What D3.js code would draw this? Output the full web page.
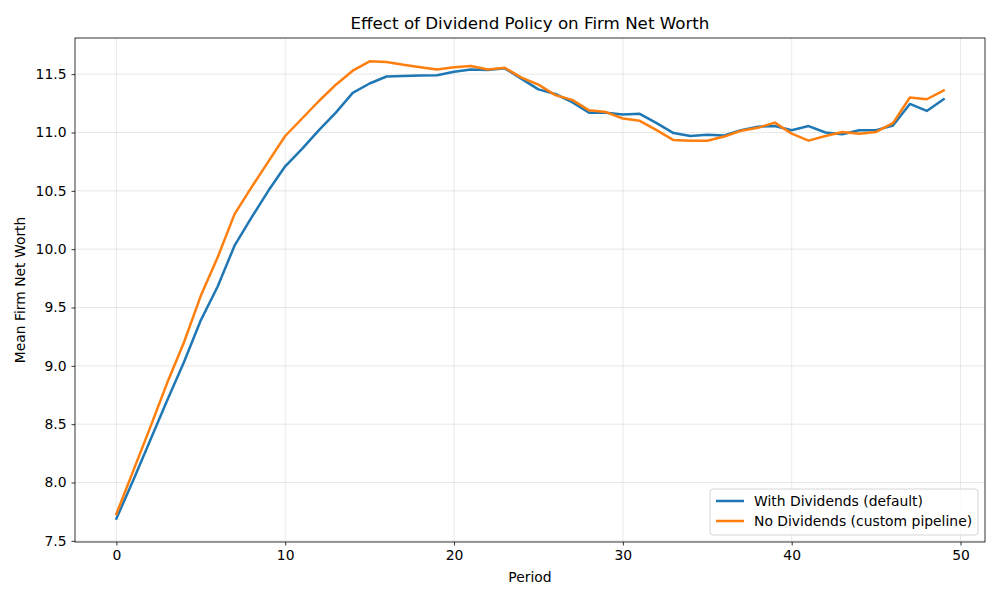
<!DOCTYPE html>
<html>
<script src="https://d3js.org/d3.v7.min.js"></script>

<head>
    <style>
        body {
            margin: 0;
            background-color: white;
            font-family: "DejaVu Sans", sans-serif;
        }
    </style>
</head>

<body>
</body>
<script>
    const width = 1000,
        height = 600;
    const margin = { top: 38, right: 15, bottom: 58, left: 75 };

    const periods = d3.range(0, 50);
    const withDividends = [
        7.69, 8.02, 8.36, 8.70, 9.03, 9.39, 9.68, 10.03, 10.27, 10.50,
        10.71, 10.86, 11.02, 11.17, 11.34, 11.42, 11.48, 11.485, 11.488, 11.49,
        11.52, 11.54, 11.535, 11.55, 11.46, 11.37, 11.33, 11.26, 11.17, 11.17,
        11.155, 11.16, 11.08, 10.995, 10.97, 10.98, 10.975, 11.02, 11.05, 11.055,
        11.02, 11.055, 11.00, 10.985, 11.02, 11.02, 11.06, 11.245, 11.185, 11.285
    ];
    const noDividends = [
        7.73, 8.10, 8.47, 8.85, 9.20, 9.60, 9.93, 10.30, 10.53, 10.75,
        10.97, 11.12, 11.27, 11.41, 11.53, 11.61, 11.605, 11.58, 11.56, 11.54,
        11.56, 11.57, 11.54, 11.555, 11.47, 11.41, 11.32, 11.28, 11.19, 11.175,
        11.12, 11.10, 11.02, 10.935, 10.93, 10.93, 10.965, 11.015, 11.04, 11.085,
        10.99, 10.93, 10.97, 11.005, 10.99, 11.005, 11.08, 11.30, 11.285, 11.36
    ];
    const series = [
        { name: "With Dividends (default)", values: withDividends, color: "#1f77b4" },
        { name: "No Dividends (custom pipeline)", values: noDividends, color: "#ff7f0e" }
    ];
    const xTicks = [0, 10, 20, 30, 40, 50];
    const yTicks = [7.5, 8.0, 8.5, 9.0, 9.5, 10.0, 10.5, 11.0, 11.5];

    const svg = d3.select("body").append("svg").attr("width", width).attr("height", height);

    const x = d3.scaleLinear()
        .domain([-2.45, 51.45])
        .range([margin.left, width - margin.right]);
    const y = d3.scaleLinear()
        .domain([7.49, 11.81])
        .range([height - margin.bottom, margin.top]);

    // grid
    svg.append("g")
        .selectAll("line.gx")
        .data(xTicks)
        .join("line")
        .attr("x1", d => x(d)).attr("x2", d => x(d))
        .attr("y1", margin.top).attr("y2", height - margin.bottom)
        .attr("stroke", "#b0b0b0").attr("stroke-opacity", 0.35).attr("stroke-width", 0.8);
    svg.append("g")
        .selectAll("line.gy")
        .data(yTicks)
        .join("line")
        .attr("x1", margin.left).attr("x2", width - margin.right)
        .attr("y1", d => y(d)).attr("y2", d => y(d))
        .attr("stroke", "#b0b0b0").attr("stroke-opacity", 0.35).attr("stroke-width", 0.8);

    // lines
    const line = d3.line()
        .x((d, i) => x(periods[i]))
        .y(d => y(d));
    series.forEach(s => {
        svg.append("path")
            .datum(s.values)
            .attr("fill", "none")
            .attr("stroke", s.color)
            .attr("stroke-width", 2.5)
            .attr("stroke-linejoin", "round")
            .attr("stroke-linecap", "square")
            .attr("d", line);
    });

    // axes
    const xAxis = svg.append("g")
        .attr("transform", `translate(0,${height - margin.bottom})`)
        .call(d3.axisBottom(x).tickValues(xTicks).tickSize(3.5).tickPadding(5));
    const yAxis = svg.append("g")
        .attr("transform", `translate(${margin.left},0)`)
        .call(d3.axisLeft(y).tickValues(yTicks).tickFormat(d3.format(".1f")).tickSize(3.5).tickPadding(5));
    [xAxis, yAxis].forEach(a => {
        a.selectAll("text").attr("font-family", "DejaVu Sans").attr("font-size", 13.9).attr("fill", "black");
        a.selectAll(".tick line").attr("stroke", "black").attr("stroke-width", 0.8);
        a.select(".domain").remove();
    });

    // frame
    svg.append("rect")
        .attr("x", margin.left).attr("y", margin.top)
        .attr("width", width - margin.left - margin.right)
        .attr("height", height - margin.top - margin.bottom)
        .attr("fill", "none").attr("stroke", "black").attr("stroke-width", 0.8);

    // titles
    svg.append("text")
        .attr("x", (margin.left + width - margin.right) / 2)
        .attr("y", 29)
        .attr("text-anchor", "middle")
        .attr("font-size", 16.7)
        .text("Effect of Dividend Policy on Firm Net Worth");
    svg.append("text")
        .attr("x", (margin.left + width - margin.right) / 2)
        .attr("y", 582)
        .attr("text-anchor", "middle")
        .attr("font-size", 13.9)
        .text("Period");
    svg.append("text")
        .attr("transform", `translate(25,${(margin.top + height - margin.bottom) / 2}) rotate(-90)`)
        .attr("text-anchor", "middle")
        .attr("font-size", 13.9)
        .text("Mean Firm Net Worth");

    // legend
    const legend = svg.append("g").attr("transform", "translate(710,489)");
    legend.append("rect")
        .attr("width", 268).attr("height", 46).attr("rx", 3)
        .attr("fill", "white").attr("fill-opacity", 0.8)
        .attr("stroke", "#cccccc").attr("stroke-width", 0.8);
    series.forEach((s, i) => {
        const row = legend.append("g").attr("transform", `translate(0,${12 + i * 20})`);
        row.append("line")
            .attr("x1", 6).attr("x2", 34)
            .attr("stroke", s.color).attr("stroke-width", 2.5);
        row.append("text")
            .attr("x", 44).attr("dy", "0.35em")
            .attr("font-size", 13.9)
            .text(s.name);
    });
</script>

</html>
